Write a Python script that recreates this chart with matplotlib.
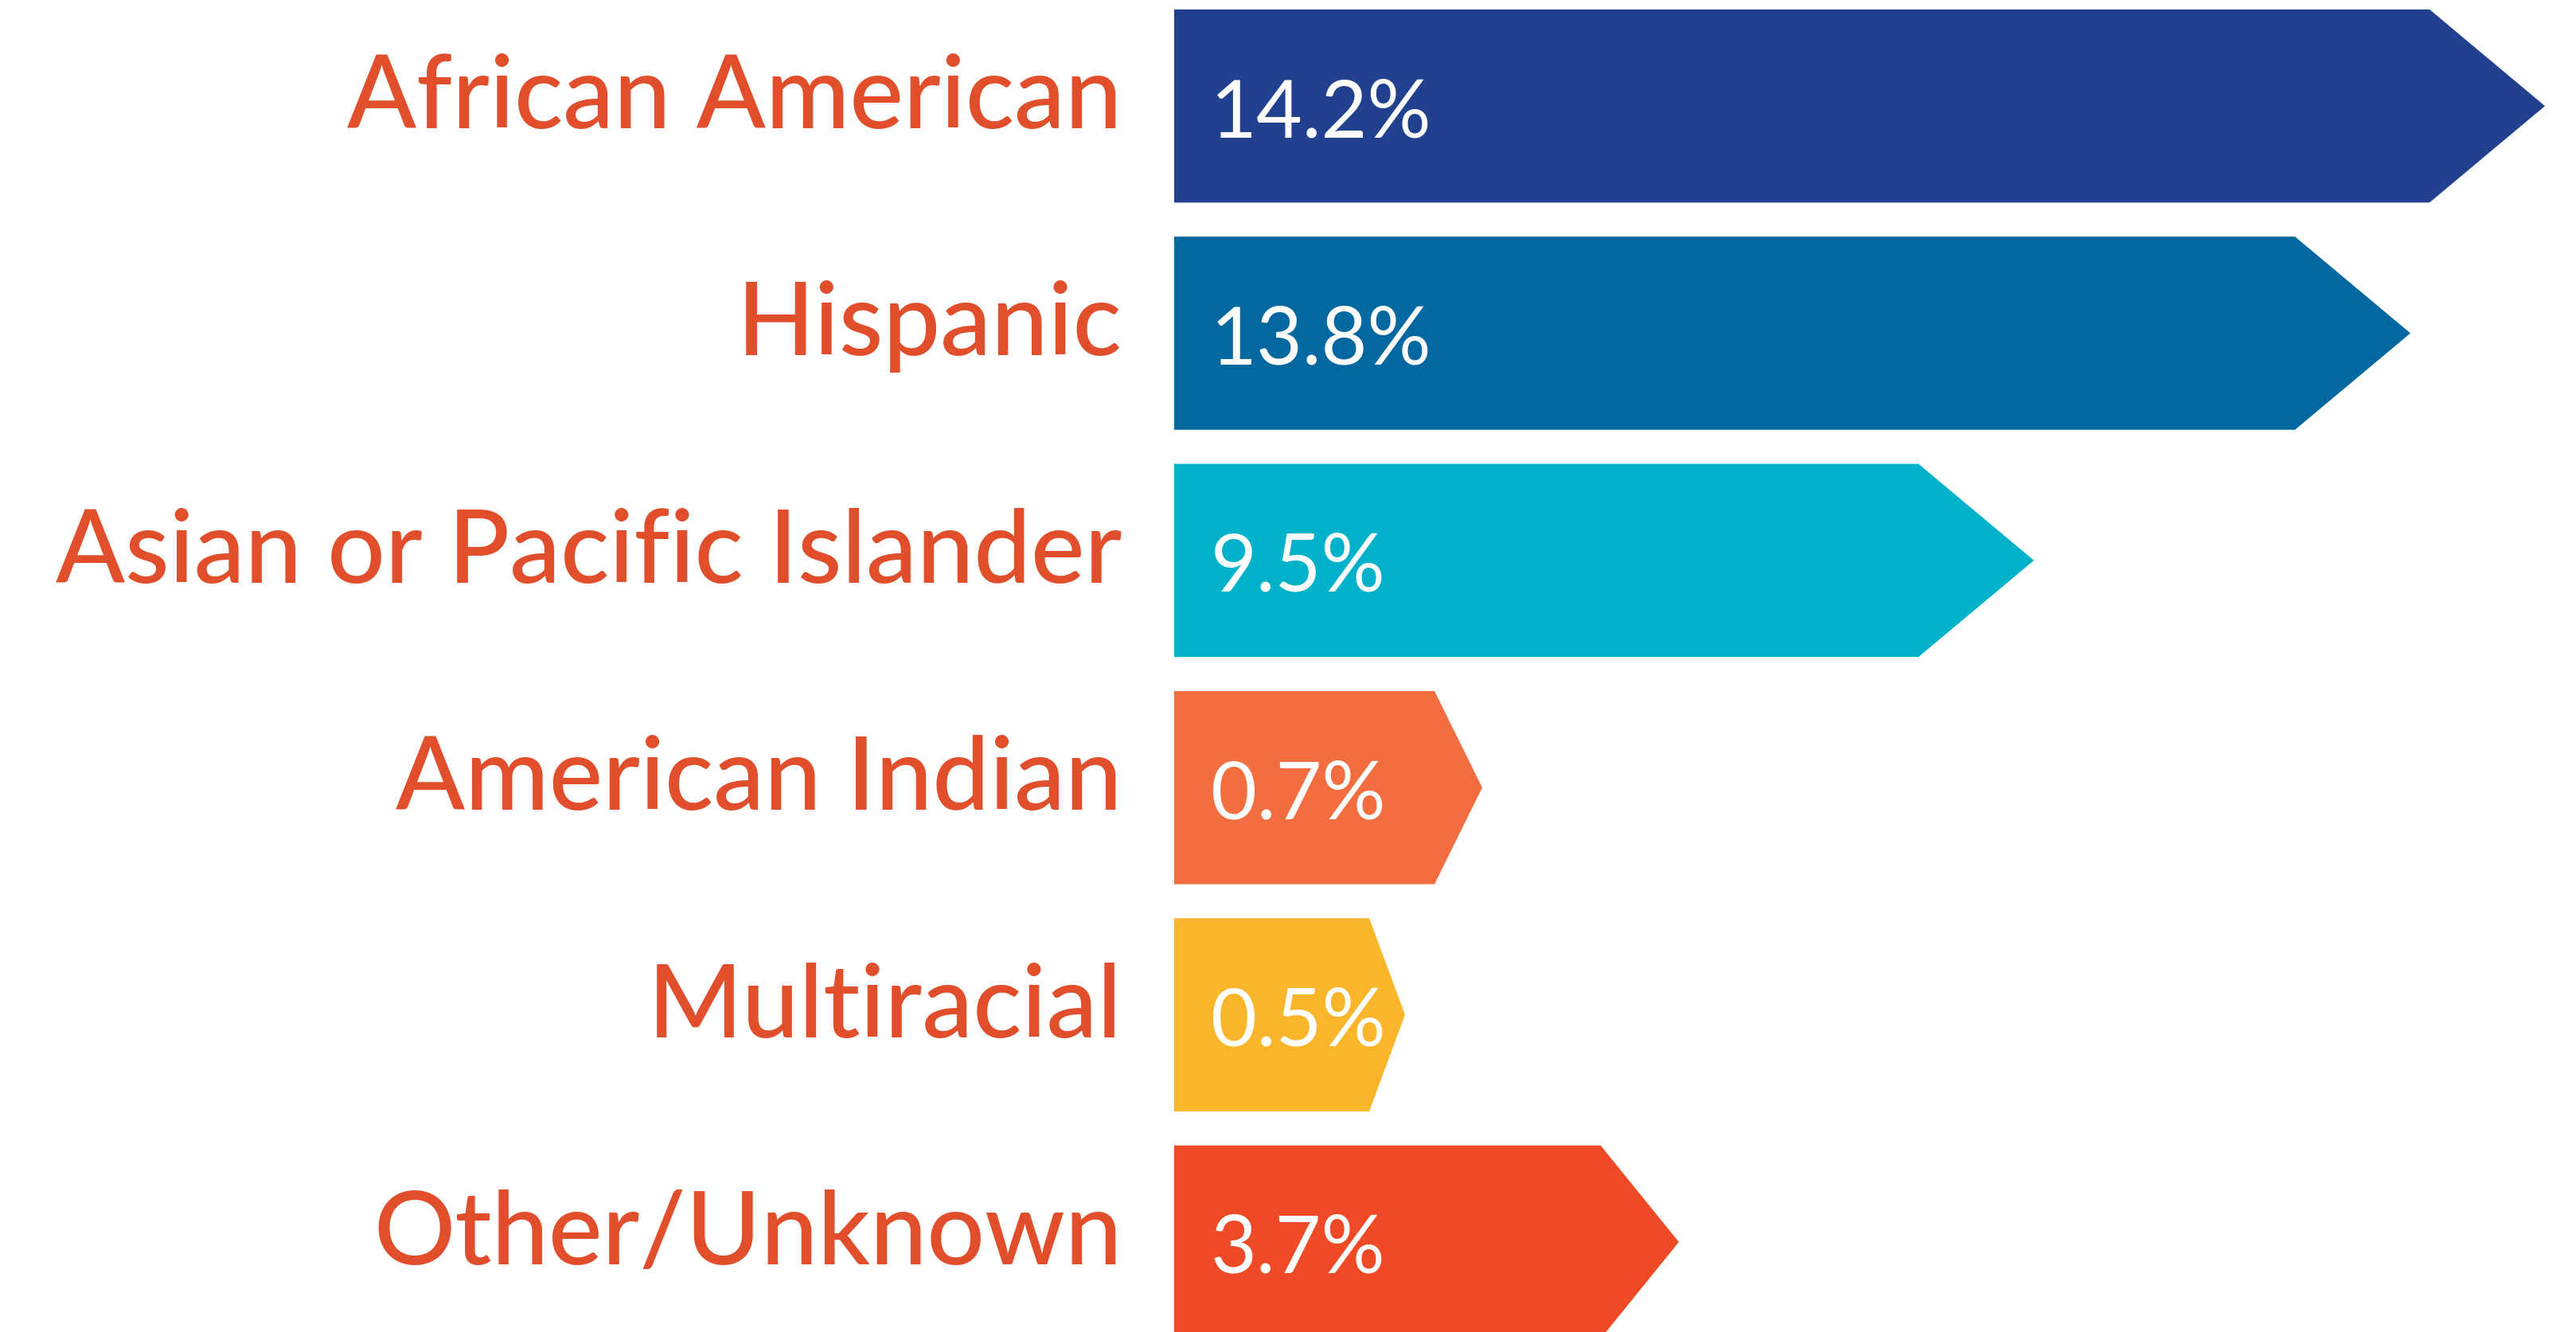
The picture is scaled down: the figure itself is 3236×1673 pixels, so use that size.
import matplotlib
matplotlib.use("Agg")
import matplotlib.pyplot as plt
from matplotlib.patches import Polygon
from matplotlib.transforms import ScaledTranslation

categories = ['African American', 'Hispanic', 'Asian or Pacific Islander',
              'American Indian', 'Multiracial', 'Other/Unknown']
values = [14.2, 13.8, 9.5, 0.7, 0.5, 3.7]
# arrow lengths as drawn in the infographic (not proportional to the values)
arrow_len = [172.2, 155.3, 108.0, 38.7, 29.0, 63.4]
colors = ['#21418F', '#0468A0', '#00B2C9', '#F26E3F', '#FBB52B', '#EE4A25']

label_color = '#E04E2C'
bar_h = 0.85

fig = plt.figure(figsize=(32.36, 16.74), dpi=100)
ax = fig.add_axes([1475 / 3236, 0, 1 - 1475 / 3236, 1])
ax.set_xlim(0, 176.1)
ax.set_ylim(5.396, -0.47)

for i, (L, c) in enumerate(zip(arrow_len, colors)):
    head = min(0.155 * L, 14.5)
    top, bot = i - bar_h / 2, i + bar_h / 2
    pts = [(0, top), (L - head, top), (L, i), (L - head, bot), (0, bot)]
    ax.add_patch(Polygon(pts, closed=True, facecolor=c, edgecolor='none'))

# percentage labels inside the arrows
val_off = ScaledTranslation(0, -0.38, fig.dpi_scale_trans)
for i, v in enumerate(values):
    ax.text(4.6, i, '%.1f%%' % v, color='white', fontsize=72, family='Lato',
            ha='left', va='baseline', transform=ax.transData + val_off)

ax.set_yticks(range(len(categories)))
ax.set_yticklabels(categories, fontsize=92, family='Lato', fontweight='medium',
                   color=label_color)
ax.tick_params(axis='y', length=0, pad=47)
cat_off = ScaledTranslation(0, -0.27, fig.dpi_scale_trans)
for lab in ax.get_yticklabels():
    lab.set_va('baseline')
    lab.set_transform(lab.get_transform() + cat_off)

ax.set_xticks([])
for s in ax.spines.values():
    s.set_visible(False)
ax.patch.set_alpha(0)

fig.savefig('out.png', dpi=100, facecolor='white')
